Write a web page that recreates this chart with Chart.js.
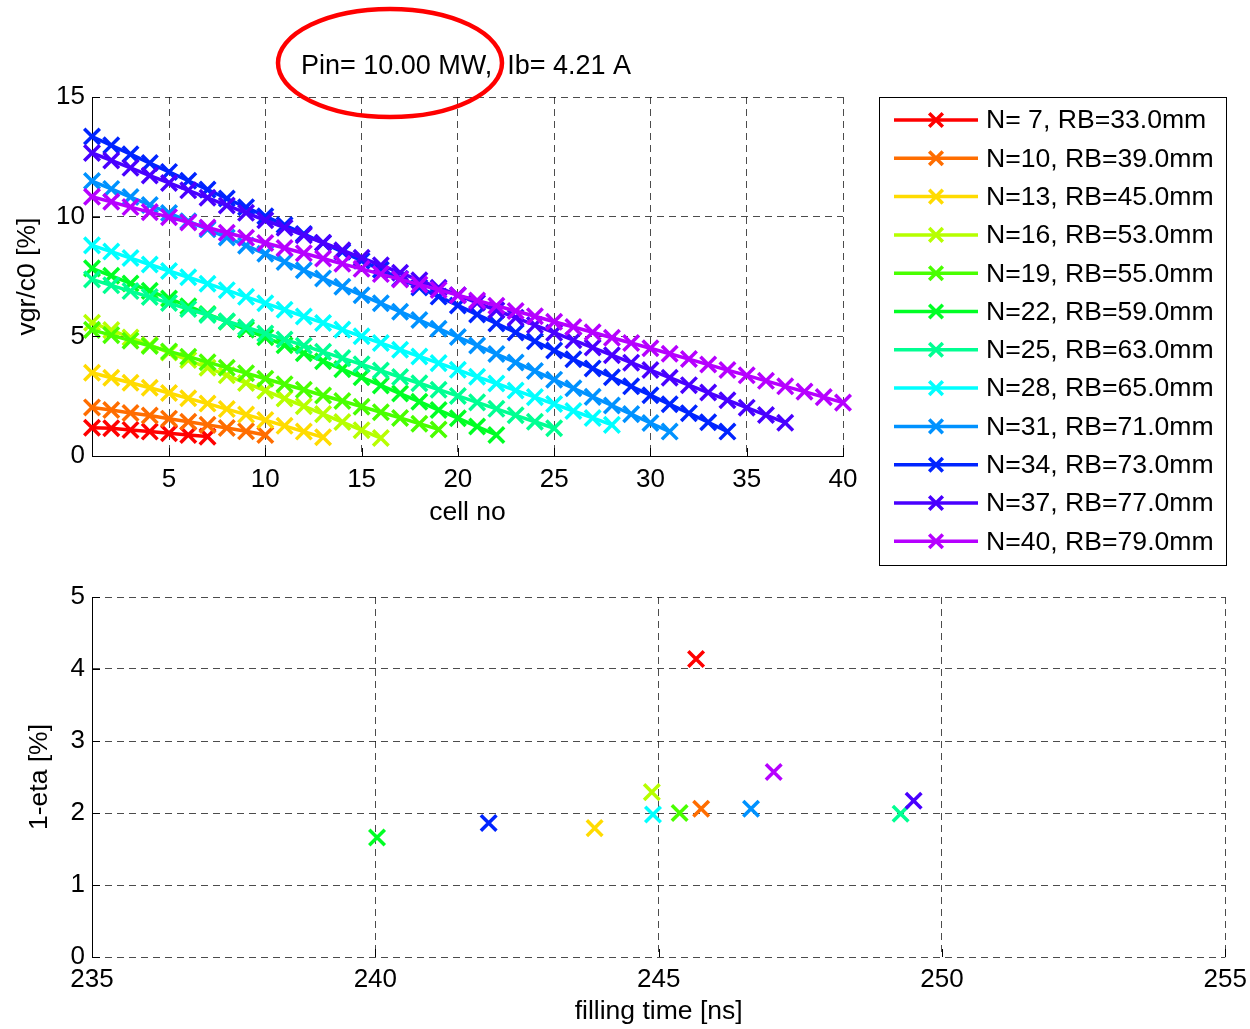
<!DOCTYPE html>
<html>
<head>
<meta charset="utf-8">
<script src="https://cdn.jsdelivr.net/npm/chart.js@4.4.1/dist/chart.umd.min.js"></script>
<style>
  html, body { margin: 0; padding: 0; background: #fff; }
  #wrap { position: relative; width: 1250px; height: 1029px; overflow: hidden; }
  canvas { position: absolute; left: 0; }
  #topChart { top: 0; }
  #bottomChart { top: 560px; }
</style>
</head>
<body>
<div id="wrap">
  <canvas id="topChart" width="1250" height="580"></canvas>
  <canvas id="bottomChart" width="1254" height="469"></canvas>
</div>
<script>
// Structure variants: number of cells and beam-pipe radius
const cellCounts = [7, 10, 13, 16, 19, 22, 25, 28, 31, 34, 37, 40];
const beamRadiiMm = [33.0, 39.0, 45.0, 53.0, 55.0, 59.0, 63.0, 65.0, 71.0, 73.0, 77.0, 79.0];

// Group velocity per cell, vgr/c0 [%]
const vgrN07 = [1.18, 1.16, 1.09, 1.02, 0.95, 0.88, 0.81];
const vgrN10 = [2.03, 1.92, 1.80, 1.69, 1.56, 1.43, 1.30, 1.17, 1.03, 0.88];
const vgrN13 = [3.48, 3.27, 3.06, 2.85, 2.63, 2.41, 2.19, 1.96, 1.73, 1.50, 1.26, 1.02, 0.78];
const vgrN16 = [5.57, 5.26, 4.95, 4.64, 4.32, 4.01, 3.69, 3.37, 3.05, 2.73, 2.40, 2.08, 1.75, 1.42, 1.08, 0.75];
const vgrN19 = [5.27, 5.05, 4.82, 4.60, 4.37, 4.15, 3.92, 3.69, 3.46, 3.23, 3.00, 2.77, 2.53, 2.30, 2.06, 1.83, 1.59, 1.35, 1.11];
const vgrN22 = [7.84, 7.53, 7.21, 6.90, 6.58, 6.26, 5.93, 5.61, 5.28, 4.96, 4.63, 4.29, 3.96, 3.63, 3.29, 2.95, 2.61, 2.27, 1.92, 1.58, 1.23, 0.88];
const vgrN25 = [7.38, 7.13, 6.89, 6.64, 6.39, 6.14, 5.89, 5.63, 5.38, 5.12, 4.87, 4.61, 4.35, 4.09, 3.83, 3.57, 3.30, 3.04, 2.77, 2.51, 2.24, 1.97, 1.70, 1.43, 1.16];
const vgrN28 = [8.80, 8.54, 8.27, 8.00, 7.73, 7.47, 7.20, 6.93, 6.65, 6.38, 6.11, 5.83, 5.56, 5.28, 5.00, 4.72, 4.44, 4.16, 3.88, 3.60, 3.31, 3.03, 2.74, 2.46, 2.17, 1.88, 1.59, 1.30];
const vgrN31 = [11.49, 11.16, 10.82, 10.49, 10.15, 9.81, 9.47, 9.13, 8.79, 8.45, 8.11, 7.76, 7.42, 7.07, 6.72, 6.38, 6.03, 5.68, 5.32, 4.97, 4.62, 4.26, 3.91, 3.55, 3.19, 2.83, 2.47, 2.11, 1.75, 1.38, 1.02];
const vgrN34 = [13.35, 12.98, 12.61, 12.24, 11.87, 11.50, 11.13, 10.76, 10.39, 10.02, 9.65, 9.28, 8.90, 8.53, 8.16, 7.78, 7.41, 7.04, 6.66, 6.29, 5.91, 5.54, 5.16, 4.79, 4.41, 4.04, 3.66, 3.29, 2.91, 2.54, 2.16, 1.79, 1.41, 1.02];
const vgrN37 = [12.66, 12.35, 12.04, 11.72, 11.41, 11.10, 10.79, 10.47, 10.16, 9.85, 9.54, 9.22, 8.91, 8.60, 8.28, 7.97, 7.66, 7.34, 7.03, 6.72, 6.40, 6.09, 5.78, 5.47, 5.15, 4.84, 4.53, 4.21, 3.90, 3.59, 3.27, 2.96, 2.65, 2.33, 2.02, 1.71, 1.39];
const vgrN40 = [10.83, 10.62, 10.40, 10.19, 9.98, 9.76, 9.55, 9.33, 9.12, 8.90, 8.69, 8.47, 8.25, 8.03, 7.82, 7.60, 7.38, 7.16, 6.94, 6.72, 6.50, 6.28, 6.06, 5.84, 5.61, 5.39, 5.17, 4.94, 4.72, 4.50, 4.27, 4.05, 3.82, 3.59, 3.37, 3.14, 2.91, 2.69, 2.46, 2.23];

// Filling time [ns] and 1-eta [%] for each structure
const fillingTimeNs = [245.66, 245.75, 243.87, 244.88, 245.37, 240.03, 249.27, 244.90, 246.63, 242.00, 249.50, 247.03];
const oneMinusEta = [4.14, 2.06, 1.79, 2.29, 2.00, 1.66, 1.99, 1.98, 2.06, 1.86, 2.17, 2.57];

// Tick values
const topXTicks = [5, 10, 15, 20, 25, 30, 35, 40];
const topYTicks = [0, 5, 10, 15];
const bottomXTicks = [235, 240, 245, 250, 255];
const bottomYTicks = [0, 1, 2, 3, 4, 5];

const titleText = 'Pin= 10.00 MW,  Ib= 4.21 A';

const vgrSeries = [vgrN07, vgrN10, vgrN13, vgrN16, vgrN19, vgrN22, vgrN25, vgrN28, vgrN31, vgrN34, vgrN37, vgrN40];
const seriesColors = ['#ff0000', '#ff6d00', '#ffdb00', '#b6ff00', '#49ff00', '#00ff24',
                      '#00ff92', '#00ffff', '#0092ff', '#0024ff', '#4900ff', '#b600ff'];
const legendLabels = cellCounts.map((n, i) =>
  'N=' + (n < 10 ? ' ' + n : String(n)) + ', RB=' + beamRadiiMm[i].toFixed(1) + 'mm');

const FONT = "'Liberation Sans', Arial, Helvetica, sans-serif";
Chart.defaults.font.family = FONT;
Chart.defaults.font.size = 26;
Chart.defaults.color = '#000';

const gridColor = 'rgba(0,0,0,0.7)';
const gridDash = [7, 5];
const MARK_R = 11;
const MARK_W = 3.5;

function fixedTicks(values) {
  return (scale) => { scale.ticks = values.map(v => ({ value: v })); };
}

// MATLAB-style inward tick marks on the left and bottom axes
function drawInwardTicks(chart, xVals, yVals) {
  const { ctx, chartArea: a, scales } = chart;
  ctx.save();
  ctx.strokeStyle = '#000';
  ctx.lineWidth = 1;
  ctx.beginPath();
  xVals.forEach(v => {
    const px = Math.round(scales.x.getPixelForValue(v)) + 0.5;
    ctx.moveTo(px, a.bottom);
    ctx.lineTo(px, a.bottom - 8);
  });
  yVals.forEach(v => {
    const py = Math.round(scales.y.getPixelForValue(v)) + 0.5;
    ctx.moveTo(a.left, py);
    ctx.lineTo(a.left + 8, py);
  });
  ctx.stroke();
  ctx.restore();
}

function drawCross(ctx, x, y, h) {
  ctx.beginPath();
  ctx.moveTo(x - h, y - h); ctx.lineTo(x + h, y + h);
  ctx.moveTo(x - h, y + h); ctx.lineTo(x + h, y - h);
  ctx.stroke();
}

const topDecor = {
  id: 'topDecor',
  afterDraw(chart) {
    const ctx = chart.ctx;
    drawInwardTicks(chart, topXTicks, topYTicks);

    // title
    ctx.save();
    ctx.fillStyle = '#000';
    ctx.font = '27px ' + FONT;
    ctx.textAlign = 'center';
    ctx.textBaseline = 'alphabetic';
    ctx.fillText(titleText, 466, 74);

    // highlight ring around the input power
    ctx.strokeStyle = '#ff0000';
    ctx.lineWidth = 4.5;
    ctx.beginPath();
    ctx.ellipse(390, 63, 112, 54, 0, 0, Math.PI * 2);
    ctx.stroke();

    // legend
    const bx = 879.5, by = 97.5, bw = 347, bh = 468;
    ctx.fillStyle = '#fff';
    ctx.fillRect(bx, by, bw, bh);
    ctx.strokeStyle = '#000';
    ctx.lineWidth = 1;
    ctx.strokeRect(bx, by, bw, bh);
    ctx.textAlign = 'left';
    ctx.textBaseline = 'middle';
    ctx.font = '26.6px ' + FONT;
    legendLabels.forEach((lab, i) => {
      const y = 120 + i * 38.3;
      ctx.strokeStyle = seriesColors[i];
      ctx.lineWidth = 3.5;
      ctx.beginPath();
      ctx.moveTo(894, y); ctx.lineTo(978, y);
      ctx.stroke();
      ctx.lineWidth = 3.5;
      drawCross(ctx, 936, y, 6.8);
      ctx.fillStyle = '#000';
      ctx.fillText(lab, 986, y + 1);
    });
    ctx.restore();
  }
};

const bottomDecor = {
  id: 'bottomDecor',
  afterDraw(chart) {
    drawInwardTicks(chart, bottomXTicks, bottomYTicks);
  }
};

new Chart(document.getElementById('topChart'), {
  type: 'line',
  data: {
    datasets: vgrSeries.map((vals, i) => ({
      label: legendLabels[i],
      data: vals.map((v, k) => ({ x: k + 1, y: v })),
      borderColor: seriesColors[i],
      backgroundColor: seriesColors[i],
      borderWidth: 3.5,
      pointStyle: 'crossRot',
      pointRadius: MARK_R,
      pointBorderWidth: MARK_W,
      pointBorderColor: seriesColors[i],
      tension: 0,
      fill: false,
      clip: false,
      order: cellCounts.length - i
    }))
  },
  options: {
    responsive: false,
    animation: false,
    layout: { padding: { left: 0, right: 407, top: 97, bottom: 0 } },
    plugins: { legend: { display: false }, tooltip: { enabled: false } },
    scales: {
      x: {
        type: 'linear', min: 1, max: 40,
        afterBuildTicks: fixedTicks(topXTicks),
        afterFit: (s) => { s.height = 124; },
        grid: { color: gridColor, lineWidth: 1, drawTicks: false },
        border: { display: true, color: '#000', width: 1, dash: gridDash },
        ticks: { padding: 8, maxRotation: 0, autoSkip: false, font: { size: 26 } },
        title: { display: true, text: 'cell no', font: { size: 26.5 }, padding: { top: 0, bottom: 51 } }
      },
      y: {
        type: 'linear', min: 0, max: 15,
        afterBuildTicks: fixedTicks(topYTicks),
        afterFit: (s) => { s.width = 92; },
        grid: { color: gridColor, lineWidth: 1, drawTicks: false },
        border: { display: true, color: '#000', width: 1, dash: gridDash },
        ticks: { padding: 7, font: { size: 26 } },
        title: { display: true, text: 'vgr/c0 [%]', font: { size: 26.5 }, padding: { top: 12, bottom: 0 } }
      }
    }
  },
  plugins: [topDecor]
});

new Chart(document.getElementById('bottomChart'), {
  type: 'scatter',
  data: {
    datasets: fillingTimeNs.map((t, i) => ({
      label: legendLabels[i],
      data: [{ x: t, y: oneMinusEta[i] }],
      borderColor: seriesColors[i],
      backgroundColor: seriesColors[i],
      pointStyle: 'crossRot',
      pointRadius: MARK_R,
      pointBorderWidth: MARK_W,
      showLine: false,
      clip: false,
      order: cellCounts.length - i
    }))
  },
  options: {
    responsive: false,
    animation: false,
    layout: { padding: { left: 0, right: 21, top: 37, bottom: 0 } },
    plugins: { legend: { display: false }, tooltip: { enabled: false } },
    scales: {
      x: {
        type: 'linear', min: 235, max: 255,
        afterBuildTicks: fixedTicks(bottomXTicks),
        afterFit: (s) => { s.height = 72; },
        grid: { color: gridColor, lineWidth: 1, drawTicks: false },
        border: { display: false, dash: gridDash },
        ticks: { padding: 7, maxRotation: 0, autoSkip: false, font: { size: 26 } },
        title: { display: true, text: 'filling time [ns]', font: { size: 26.5 }, padding: { top: 0, bottom: 1 } }
      },
      y: {
        type: 'linear', min: 0, max: 5,
        afterBuildTicks: fixedTicks(bottomYTicks),
        afterFit: (s) => { s.width = 92; },
        grid: { color: gridColor, lineWidth: 1, drawTicks: false },
        border: { display: true, color: '#000', width: 1, dash: gridDash },
        ticks: { padding: 7, font: { size: 26 } },
        title: { display: true, text: '1-eta [%]', font: { size: 26.5 }, padding: { top: 24, bottom: 0 } }
      }
    }
  },
  plugins: [bottomDecor]
});
</script>
</body>
</html>
